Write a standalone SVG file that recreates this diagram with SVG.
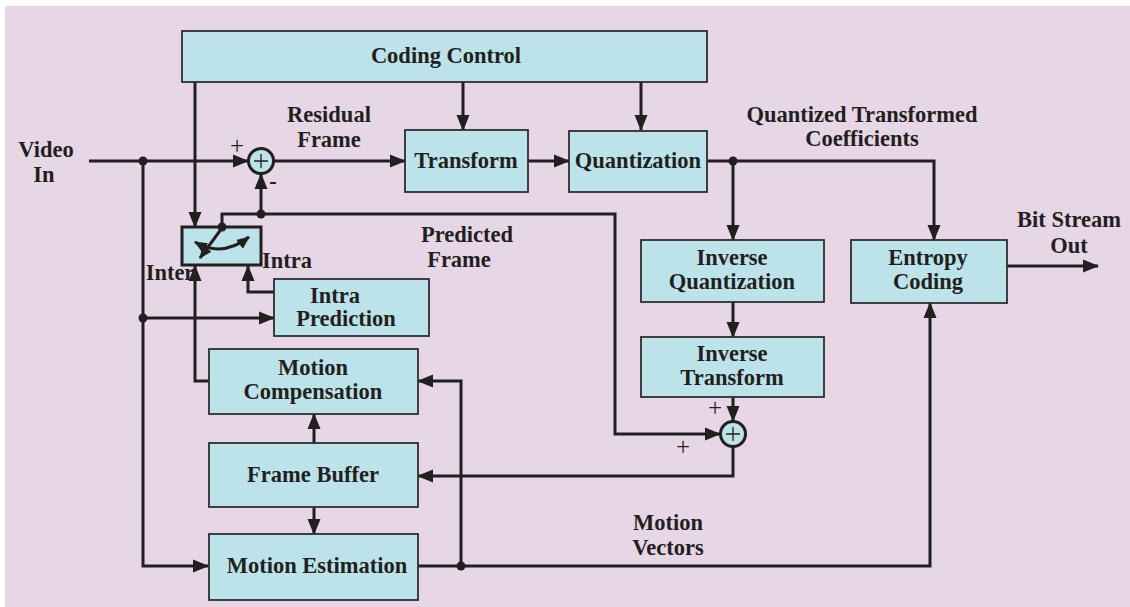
<svg xmlns="http://www.w3.org/2000/svg" width="1130" height="607" viewBox="0 0 1130 607">
<defs>
<style>
.box{fill:#bce3e9;stroke:#2e2e2e;stroke-width:1.8}
.ln{fill:none;stroke:#231f20;stroke-width:3}
.t{font-family:"Liberation Serif","Times New Roman",serif;font-weight:bold;font-size:22.5px;fill:#231f20;text-anchor:middle}
.s{font-family:"Liberation Serif","Times New Roman",serif;font-size:25px;fill:#231f20;text-anchor:middle}
.dot{fill:#231f20}
.add{fill:#bce3e9;stroke:#231f20;stroke-width:3}
</style>
<marker id="ar" markerUnits="userSpaceOnUse" markerWidth="16" markerHeight="14" refX="15" refY="6.5" orient="auto-start-reverse" viewBox="0 0 16 13">
<path d="M0,0 L16,6.5 L0,13 z" fill="#231f20"/>
</marker>
<marker id="ars" markerUnits="userSpaceOnUse" markerWidth="13" markerHeight="12" refX="12" refY="5.5" orient="auto-start-reverse" viewBox="0 0 13 11">
<path d="M0,0 L13,5.5 L0,11 z" fill="#231f20"/>
</marker>
</defs>
<rect x="5" y="6" width="1125" height="601" fill="#e7d7e6"/>

<g id="connectors">
<path class="ln" d="M89,161 H248" marker-end="url(#ar)"/>
<path class="ln" d="M143,161 V566 H208" marker-end="url(#ar)"/>
<path class="ln" d="M143,318 H274" marker-end="url(#ar)"/>
<path class="ln" d="M195,82 V227" marker-end="url(#ar)"/>
<path class="ln" d="M463,82 V130" marker-end="url(#ar)"/>
<path class="ln" d="M641,82 V130" marker-end="url(#ar)"/>
<path class="ln" d="M274,161 H405" marker-end="url(#ar)"/>
<path class="ln" d="M528,161 H569" marker-end="url(#ar)"/>
<path class="ln" d="M706,161 H934 V240" marker-end="url(#ar)"/>
<path class="ln" d="M733,161 V240" marker-end="url(#ar)"/>
<path class="ln" d="M733,302 V337" marker-end="url(#ar)"/>
<path class="ln" d="M733,397 V421" marker-end="url(#ar)"/>
<path class="ln" d="M733,447 V476 H418" marker-end="url(#ar)"/>
<path class="ln" d="M222,227 V214 H615 V434 H720" marker-end="url(#ar)"/>
<path class="ln" d="M261,214 V174" marker-end="url(#ar)"/>
<path class="ln" d="M209,381 H195 V266" marker-end="url(#ar)"/>
<path class="ln" d="M274,292 H248 V266" marker-end="url(#ar)"/>
<path class="ln" d="M314,443 V414" marker-end="url(#ar)"/>
<path class="ln" d="M314,507 V534" marker-end="url(#ar)"/>
<path class="ln" d="M418,566 H930 V303" marker-end="url(#ar)"/>
<path class="ln" d="M461,566 V381 H418" marker-end="url(#ar)"/>
<path class="ln" d="M1007,266 H1098" marker-end="url(#ar)"/>
<circle class="dot" cx="143" cy="161" r="4.5"/>
<circle class="dot" cx="143" cy="318" r="4.5"/>
<circle class="dot" cx="733" cy="161" r="4.5"/>
<circle class="dot" cx="261" cy="214" r="4.5"/>
<circle class="dot" cx="461" cy="566" r="4.5"/>
</g>

<g id="coding-control">
<rect class="box" x="182" y="31" width="525" height="51"/>
<text class="t" x="446" y="63">Coding Control</text>
</g>
<g id="transform">
<rect class="box" x="405" y="130" width="123" height="62"/>
<text class="t" x="466" y="168">Transform</text>
</g>
<g id="quantization">
<rect class="box" x="569" y="131" width="138" height="61"/>
<text class="t" x="638" y="168">Quantization</text>
</g>
<g id="inverse-quantization">
<rect class="box" x="641" y="240" width="183" height="62"/>
<text class="t" x="732" y="265">Inverse</text>
<text class="t" x="732" y="289">Quantization</text>
</g>
<g id="entropy-coding">
<rect class="box" x="851" y="240" width="156" height="63"/>
<text class="t" x="928" y="265">Entropy</text>
<text class="t" x="928" y="289">Coding</text>
</g>
<g id="inverse-transform">
<rect class="box" x="641" y="337" width="183" height="60"/>
<text class="t" x="732" y="361">Inverse</text>
<text class="t" x="732" y="385">Transform</text>
</g>
<g id="intra-prediction">
<rect class="box" x="274" y="279" width="155" height="57"/>
<text class="t" x="335" y="303">Intra</text>
<text class="t" x="346" y="326">Prediction</text>
</g>
<g id="motion-compensation">
<rect class="box" x="209" y="349" width="209" height="65"/>
<text class="t" x="313" y="375">Motion</text>
<text class="t" x="313" y="399">Compensation</text>
</g>
<g id="frame-buffer">
<rect class="box" x="209" y="443" width="209" height="64"/>
<text class="t" x="313" y="482">Frame Buffer</text>
</g>
<g id="motion-estimation">
<rect class="box" x="209" y="534" width="209" height="66"/>
<text class="t" x="317" y="573">Motion Estimation</text>
</g>
<g id="switch">
<rect x="182" y="227" width="79" height="38" fill="#bce3e9" stroke="#231f20" stroke-width="3"/>
<path class="ln" d="M222,228 L200,258" marker-end="url(#ars)"/>
<path class="ln" stroke-width="2.5" d="M195,242 Q222,258 249,237" marker-start="url(#ars)" marker-end="url(#ars)"/>
<circle class="dot" cx="222" cy="227" r="4.5"/>
</g>
<g id="adder-1">
<circle class="add" cx="261" cy="161" r="12.5"/>
<path d="M254,161 H268 M261,154 V168" stroke="#231f20" stroke-width="1.3"/>
</g>
<g id="adder-2">
<circle class="add" cx="733" cy="434" r="12.5"/>
<path d="M726,434 H740 M733,427 V441" stroke="#231f20" stroke-width="1.3"/>
</g>

<g id="labels">
<text class="t" x="46" y="157">Video</text>
<text class="t" x="44" y="182">In</text>
<text class="t" x="329" y="122">Residual</text>
<text class="t" x="329" y="147">Frame</text>
<text class="t" x="862" y="122">Quantized Transformed</text>
<text class="t" x="862" y="146">Coefficients</text>
<text class="t" x="1069" y="227">Bit Stream</text>
<text class="t" x="1069" y="253">Out</text>
<text class="t" x="467" y="242">Predicted</text>
<text class="t" x="459" y="267">Frame</text>
<text class="t" x="668" y="530">Motion</text>
<text class="t" x="668" y="555">Vectors</text>
<text class="t" x="170" y="280">Inter</text>
<text class="t" x="287" y="268">Intra</text>
<text class="s" x="237" y="154">+</text>
<text class="t" x="273" y="189">-</text>
<text class="s" x="715" y="416">+</text>
<text class="s" x="683" y="455">+</text>
</g>
</svg>
